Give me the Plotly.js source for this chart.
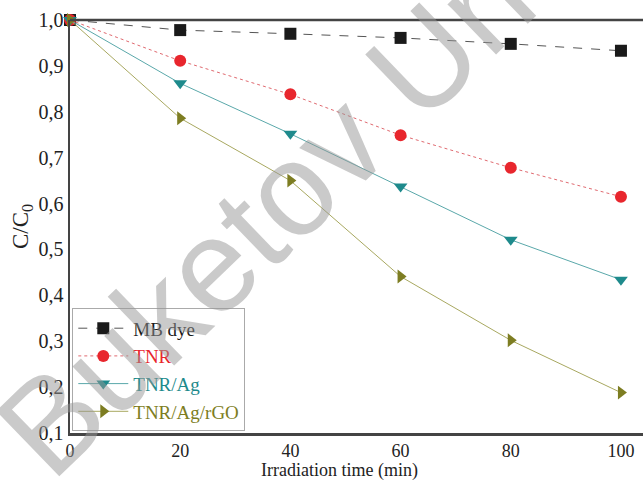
<!DOCTYPE html>
<html><head><meta charset="utf-8">
<script src="https://cdn.plot.ly/plotly-3.0.1.min.js"></script>
<style>html,body{margin:0;padding:0;background:#fff}#chart{width:643px;height:482px}</style>
</head><body><div id="chart"></div>
<script>
const time = [0, 20, 40, 60, 80, 100];
const mbDye = [1.0, 0.978, 0.970, 0.961, 0.948, 0.933];
const tnr = [1.0, 0.911, 0.838, 0.749, 0.678, 0.615];
const tnrAg = [1.0, 0.862, 0.752, 0.637, 0.521, 0.434];
const tnrAgRgo = [1.0, 0.786, 0.650, 0.441, 0.302, 0.188];
const names = ['MB dye', 'TNR', 'TNR/Ag', 'TNR/Ag/rGO'];
const xTicks = [0, 20, 40, 60, 80, 100];
const yTicks = [0.1, 0.2, 0.3, 0.4, 0.5, 0.6, 0.7, 0.8, 0.9, 1.0];

const colors = ['#1a1a1a', '#e8262d', '#1e8a8c', '#7d7d22'];
const lineCols = ['#555555', '#e06a70', '#5aa8aa', '#a8a860'];
const symbols = ['square', 'circle', 'triangle-down', 'triangle-right'];
const dashes = ['dash', 'dot', 'solid', 'solid'];
const series = [mbDye, tnr, tnrAg, tnrAgRgo];

const traces = series.map((ys, i) => ({
  x: time, y: ys, name: names[i], type: 'scatter', mode: 'lines+markers',
  line: {color: lineCols[i], width: 1, dash: dashes[i]},
  marker: {color: colors[i], symbol: symbols[i], size: 12},
  cliponaxis: false
}));

const layout = {
  width: 643, height: 482,
  margin: {l: 70, r: 0, t: 20, b: 49},
  separators: ',.',
  font: {family: 'Liberation Serif, Times New Roman, serif', color: '#222'},
  paper_bgcolor: '#fff', plot_bgcolor: '#fff',
  xaxis: {
    range: [0, 104], tickvals: xTicks, ticktext: xTicks.map(String),
    showgrid: false, zeroline: false, showline: true, linecolor: '#444', linewidth: 2.5,
    ticks: '', ticklabelstandoff: 0, tickfont: {size: 18, color: '#222'}, automargin: false
  },
  yaxis: {
    range: [0.1, 1.0], tickvals: yTicks, ticktext: yTicks.map(v => v.toFixed(1).replace('.', ',')),
    showgrid: false, zeroline: false, showline: true, linecolor: '#444', linewidth: 2.5,
    ticks: '', ticklabelstandoff: 0, tickfont: {size: 20, color: '#222'}, automargin: false,
    title: {text: 'C/C<sub>0</sub>', font: {size: 23, color: '#222'}, standoff: 4}
  },
  showlegend: true,
  legend: {
    x: 0.004, y: 0.004, xanchor: 'left', yanchor: 'bottom',
    bgcolor: 'rgba(255,255,255,0.9)', bordercolor: '#aaa', borderwidth: 1,
    font: {size: 19}, tracegroupgap: 0, itemwidth: 50
  },
  shapes: [
    {type: 'line', xref: 'paper', yref: 'paper', x0: 0, x1: 1, y0: 1, y1: 1, line: {color: '#444', width: 2.5}}
  ],
  annotations: [
    {text: 'Irradiation time (min)', xref: 'paper', yref: 'paper', x: 0.47, y: -0.0908,
     xanchor: 'center', yanchor: 'middle', showarrow: false, borderpad: 0, font: {size: 18, color: '#222'}},
    {text: 'Buketov Un', xref: 'paper', yref: 'paper', x: 0.34, y: 0.53, showarrow: false,
     textangle: -44, font: {size: 132, family: 'Liberation Sans, Arial, sans-serif', color: 'rgba(150,150,150,0.5)'}}
  ]
};

Plotly.newPlot('chart', traces, layout, {displayModeBar: false, staticPlot: true}).then(() => {
  document.querySelectorAll('.legendtext').forEach((t, i) => { t.style.fill = colors[i]; });
});
</script>
</body></html>
